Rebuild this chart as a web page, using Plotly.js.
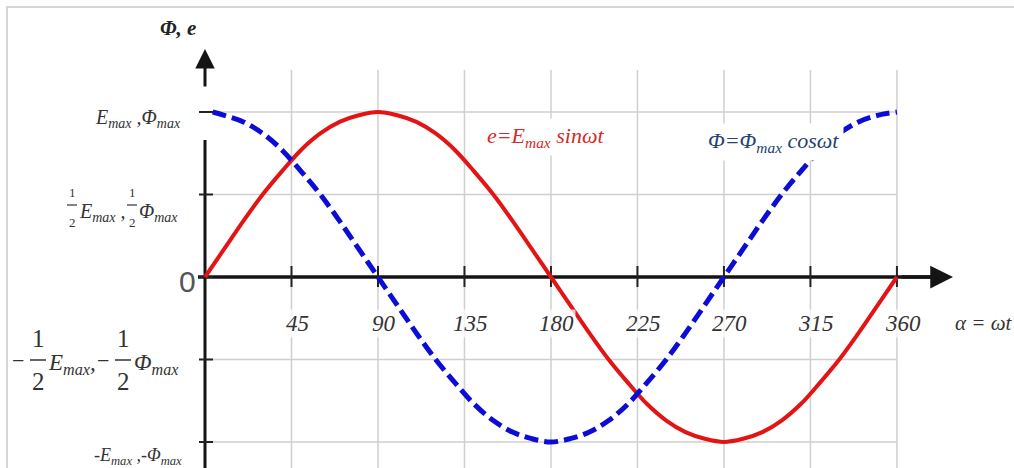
<!DOCTYPE html>
<html>
<head>
<meta charset="utf-8">
<script src="https://cdn.plot.ly/plotly-3.0.1.min.js"></script>
<style>html,body{margin:0;padding:0;background:#fff;}#chart{width:1014px;height:468px;}</style>
</head>
<body>
<div id="chart"></div>
<script>
// ---- data ----
const angles = [0,10,20,30,40,50,60,70,80,90,100,110,120,130,140,150,160,170,180,190,200,210,220,230,240,250,260,270,280,290,300,310,320,330,340,350,360];
const eValues = [0,0.17,0.34,0.5,0.64,0.77,0.87,0.94,0.98,1.0,0.98,0.94,0.87,0.77,0.64,0.5,0.34,0.17,0,-0.17,-0.34,-0.5,-0.64,-0.77,-0.87,-0.94,-0.98,-1.0,-0.98,-0.94,-0.87,-0.77,-0.64,-0.5,-0.34,-0.17,0];
const phiAngles = [4,10,20,30,40,50,60,70,80,90,100,110,120,130,140,150,160,170,180,190,200,210,220,230,240,250,260,270,280,290,300,310,320,330,340,350,360];
const phiValues = [1.0,0.98,0.94,0.87,0.77,0.64,0.5,0.34,0.17,0,-0.17,-0.34,-0.5,-0.64,-0.77,-0.87,-0.94,-0.98,-1.0,-0.98,-0.94,-0.87,-0.77,-0.64,-0.5,-0.34,-0.17,0,0.17,0.34,0.5,0.64,0.77,0.87,0.94,0.98,1.0];
const xTickValues = [45,90,135,180,225,270,315,360];
const xTickLabels = ['45','90','135','180','225','270','315','360'];
const yGridLevels = [-1,-0.5,0.5,1];
const yTickLevels = [-1,-0.5,0,0.5,1];
const eLabel = 'e=E<sub>max</sub> sinωt';
const phiLabel = 'Φ=Φ<sub>max</sub> cosωt';
const xAxisName = 'α = ωt';
const yAxisName = 'Φ, e';

// ---- layout geometry (pixel -> axis mapping) ----
const W = 1014, H = 468;
const X0PX = 205, PXPERDEG = 1.922, Y0PX = 277, PXPERUNIT = 165;
const X = p => (p - X0PX) / PXPERDEG;
const Y = q => (Y0PX - q) / PXPERUNIT;

const serif = 'Liberation Serif, DejaVu Serif, serif';
const txtColor = '#333333';

const shapes = [];
const annotations = [];

// image border
shapes.push({type:'rect', xref:'x', yref:'y', x0:X(7), x1:X(1040), y0:Y(7), y1:Y(500),
  line:{color:'#d6d6d6', width:2}, fillcolor:'rgba(0,0,0,0)', layer:'below'});

// grid lines
xTickValues.forEach(v => shapes.push({type:'line', xref:'x', yref:'y', x0:v, x1:v, y0:Y(470), y1:Y(70),
  line:{color:'#cfcfcf', width:1.5}, layer:'below'}));
yGridLevels.forEach(v => shapes.push({type:'line', xref:'x', yref:'y', x0:0, x1:360, y0:v, y1:v,
  line:{color:'#cfcfcf', width:1.5}, layer:'below'}));

// axes lines
shapes.push({type:'line', xref:'x', yref:'y', x0:X(198), x1:X(935), y0:0, y1:0, line:{color:'#141414', width:3.5}, layer:'below'});
shapes.push({type:'line', xref:'x', yref:'y', x0:0, x1:0, y0:Y(470), y1:Y(140), line:{color:'#141414', width:3}, layer:'below'});

// ticks
xTickValues.forEach(v => shapes.push({type:'line', xref:'x', yref:'y', x0:v, x1:v, y0:Y(266), y1:Y(287),
  line:{color:'#222', width:2}, layer:'below'}));
yTickLevels.forEach(v => shapes.push({type:'line', xref:'x', yref:'y', x0:X(199), x1:X(213), y0:v, y1:v,
  line:{color:'#222', width:2}, layer:'below'}));

// arrows
annotations.push({x:X(953), y:0, ax:X(900), ay:0, axref:'x', ayref:'y', xref:'x', yref:'y', text:'',
  showarrow:true, arrowhead:2, arrowsize:1.3, arrowwidth:3.5, arrowcolor:'#141414', standoff:0});
annotations.push({x:0, y:Y(49), ax:0, ay:Y(88), axref:'x', ayref:'y', xref:'x', yref:'y', text:'',
  showarrow:true, arrowhead:2, arrowsize:1.3, arrowwidth:3, arrowcolor:'#141414', standoff:0});

function T(text, p, q, size, opts) {
  const o = Object.assign({xanchor:'center', color:txtColor, family:serif, weight:'normal', style:'italic', bg:null}, opts || {});
  const a = {text:text, x:X(p), y:Y(q), xref:'x', yref:'y', showarrow:false, xanchor:o.xanchor, yanchor:'middle',
    font:{family:o.family, size:size, color:o.color, weight:o.weight, style:o.style}};
  if (o.bg) { a.bgcolor = o.bg; a.borderpad = o.pad || 2; }
  annotations.push(a);
}
function bar(p0, p1, q, w) {
  shapes.push({type:'line', xref:'x', yref:'y', x0:X(p0), x1:X(p1), y0:Y(q), y1:Y(q), line:{color:txtColor, width:w || 1.2}, layer:'above'});
}

// y-axis title
T(yAxisName, 178, 28, 21, {weight:'bold', color:'#222'});

// y labels
T('E<sub>max</sub> ,Φ<sub>max</sub>', 183, 118, 20, {xanchor:'right'});

T('1', 72, 192, 13, {style:'normal'}); bar(67, 77, 205); T('2', 72, 222, 13, {style:'normal'});
T('E<sub>max</sub> ,', 77, 212, 20, {xanchor:'left'});
T('1', 132, 192, 13, {style:'normal'}); bar(127, 137, 205); T('2', 132, 222, 13, {style:'normal'});
T('Φ<sub>max</sub>', 137, 212, 20, {xanchor:'left'});

T('0', 187, 281, 30, {family:'Liberation Sans, Arial, sans-serif', style:'normal', color:'#555'});

T('−', 18, 360, 22, {style:'normal'});
T('1', 38, 338, 25, {style:'normal'}); bar(30, 46, 360, 1.5); T('2', 38, 381, 25, {style:'normal'});
T('E<sub>max</sub>,', 46, 364, 23, {xanchor:'left'});
T('−', 103, 360, 22, {style:'normal'});
T('1', 123, 338, 25, {style:'normal'}); bar(115, 131, 360, 1.5); T('2', 123, 381, 25, {style:'normal'});
T('Φ<sub>max</sub>', 132, 364, 23, {xanchor:'left'});

T('-E<sub>max</sub> ,-Φ<sub>max</sub>', 184, 456, 18, {xanchor:'right'});

// x tick labels
xTickValues.forEach((v, i) => {
  annotations.push({text:xTickLabels[i], x:v, y:Y(323), xref:'x', yref:'y', xshift:6, showarrow:false,
    xanchor:'center', yanchor:'middle', bgcolor:'rgba(255,255,255,0.75)', borderpad:1,
    font:{family:serif, size:23, color:txtColor, style:'italic'}});
});
T(xAxisName, 953, 323, 21, {xanchor:'left'});

// equation labels
T(eLabel, 545, 137, 22, {color:'#d42a2a', bg:'#ffffff', pad:4});
T(phiLabel, 773, 142, 22, {color:'#23426f', bg:'#ffffff', pad:4});

const traces = [
  {x:angles, y:eValues, type:'scatter', mode:'lines', name:'e',
   line:{color:'#e31414', width:4, shape:'spline'}, hoverinfo:'skip'},
  {x:phiAngles, y:phiValues, type:'scatter', mode:'lines', name:'Φ',
   line:{color:'#0c0cd6', width:5, dash:'14px,6px', shape:'spline'}, hoverinfo:'skip'}
];

const layout = {
  width:W, height:H, margin:{l:0, r:0, t:0, b:0, pad:0},
  paper_bgcolor:'#ffffff', plot_bgcolor:'#ffffff', showlegend:false,
  xaxis:{range:[X(0), X(W)], visible:false, fixedrange:true},
  yaxis:{range:[Y(H), Y(0)], visible:false, fixedrange:true},
  shapes:shapes, annotations:annotations
};

Plotly.newPlot('chart', traces, layout, {staticPlot:true, displayModeBar:false});
</script>
</body>
</html>
